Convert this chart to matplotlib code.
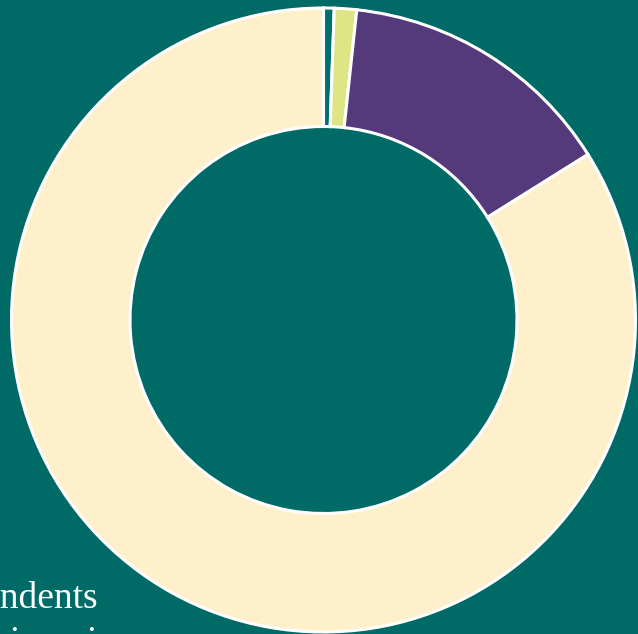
import matplotlib

matplotlib.use("Agg")
import matplotlib.pyplot as plt

# slice shares (percent), clockwise from 12 o'clock
labels = ["Other", "Prefer not to say", "Members", "Non-members"]
shares = [0.55, 1.15, 14.4, 83.9]
colors = ["#00706c", "#dde584", "#553a7b", "#fff0cc"]
legend_lines = ["Respondents", "across in a rise"]

BG = "#006a67"

fig = plt.figure(figsize=(6.38, 6.34), dpi=100, facecolor=BG)
ax = fig.add_axes([0, 0, 1, 1])
ax.set_facecolor(BG)

# work in pixel units so the ring sits where it does in the picture
outer = 312
inner = 193.5
ax.pie(
    shares,
    colors=colors,
    startangle=90,
    counterclock=False,
    radius=outer,
    center=(323.5, 314),
    wedgeprops=dict(width=outer - inner, edgecolor="white", linewidth=2.2),
)
ax.set_xlim(0, 638)
ax.set_ylim(0, 634)
ax.set_aspect("equal")
ax.axis("off")

# legend text, cut off at the left edge as in the original
for i, line in enumerate(legend_lines):
    ax.text(-93, 26 - i * 44, line, color="white", fontsize=27,
            family="Liberation Serif", ha="left", va="baseline")

fig.savefig("out.png", dpi=100, facecolor=BG)
